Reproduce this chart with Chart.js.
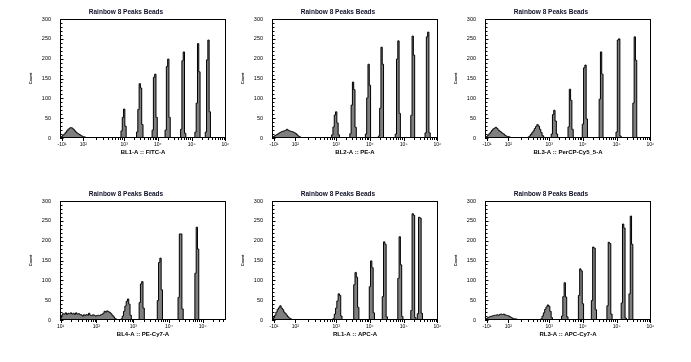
<!DOCTYPE html>
<html><head><meta charset="utf-8">
<script src="https://cdn.jsdelivr.net/npm/chart.js@4/dist/chart.umd.min.js"></script>
<style>
html,body{margin:0;padding:0;background:#fff;}
body{width:691px;height:362px;position:relative;overflow:hidden;}
canvas{position:absolute;}
</style></head><body>
<script>
// ---------------- data ----------------
const chartTitle = 'Rainbow 8 Peaks Beads';
const yAxisTitle = 'Count';
const binCount = 128;
const yTickValues = [0, 50, 100, 150, 200, 250, 300];
const biexTickPositions = [1.5, 18, 49.5, 75.5, 101.5, 127.5];
const biexTickLabels = ['-10¹', '10²', '10³', '10⁴', '10⁵', '10⁶'];
const logTickPositions = [0.5, 28, 56.5, 84, 110];
const logTickLabels = ['10¹', '10²', '10³', '10⁴', '10⁵'];
const channelNames = ['BL1-A :: FITC-A', 'BL2-A :: PE-A', 'BL3-A :: PerCP-Cy5_5-A',
                      'BL4-A :: PE-Cy7-A', 'RL1-A :: APC-A', 'RL3-A :: APC-Cy7-A'];

// histogram counts: [first bin, counts of consecutive bins]; other bins are 0
const fitcBins = [
  [0, [2,4,7,10,14,18,22,25,26,25,22,18,15,12,10,8,6,4,3,2,1]],
  [47, [18,52,73,30]],
  [59, [15,72,137,126,34]],
  [71, [20,153,161,52]],
  [81, [20,180,199,52]],
  [93, [22,195,217,12]],
  [104, [15,88,238,167]],
  [112, [15,197,247,66]]
];
const peBins = [
  [0, [2,4,6,8,10,12,14,16,17,18,19,22,20,18,17,16,15,13,11,8,5,3,1]],
  [46, [8,28,58,66,38,8]],
  [60, [11,83,141,122,27]],
  [72, [10,101,186,133]],
  [82, [5,75,229,186]],
  [95, [10,199,245,62]],
  [107, [57,257,209]],
  [118, [13,255,267,13]]
];
const percpBins = [
  [0, [2,4,7,11,15,19,23,25,27,24,20,17,15,12,10,7,5,4,3,2,1]],
  [33, [2,5,9,13,18,24,29,34,30,22,14,6,2]],
  [51, [10,59,70,43,10]],
  [64, [28,123,95,22]],
  [75, [35,177,184,48]],
  [88, [98,217,161]],
  [101, [15,247,250,5]],
  [114, [88,255,196]]
];
const pecy7Bins = [
  [0, [4,12,16,15,18,14,17,16,18,15,17,14,18,15,16,14,13,
       10,13,11,14,12,17,12,11,13,12,10,11,12,11,13,14,
       17,22,20,23,21,19,16,12,8,4,2,1]],
  [47, [3,10,22,35,47,53,40,12]],
  [61, [44,91,97,30]],
  [75, [49,145,156,76]],
  [91, [57,217,217,28]],
  [104, [118,234,179]]
];
const apcBins = [
  [0, [2,6,12,20,27,31,36,30,26,20,16,12,8,5,3,1]],
  [47, [4,15,30,48,66,62,10]],
  [63, [89,120,108,32]],
  [75, [84,149,132,18]],
  [85, [59,197,191,8]],
  [97, [105,210,139,9]],
  [107, [24,268,264,6]],
  [112, [16,259,257,17]]
];
const apccy7Bins = [
  [0, [2,4,6,8,9,10,11,12,12,13,12,14,15,14,15,13,12,11,10,8,6,4,3,3,2,1]],
  [43, [3,10,18,27,33,38,35,22,6]],
  [59, [10,59,94,58,8]],
  [72, [62,129,124,41]],
  [82, [49,184,181,26]],
  [94, [36,196,193,15]],
  [105, [43,242,232,5]],
  [111, [66,262,191]]
];

// ---------------- layout / style ----------------
const FONT = '"Liberation Sans", Arial, "DejaVu Sans", sans-serif';
const Y_W = 34, PLOT_W = 166, PLOT_H = 119, TITLE_H = 19, X_H = 22, PAD_R = 8;
const panels = [
  {bins: fitcBins,   name: channelNames[0], log: false, left: 60,  top: 19},
  {bins: peBins,     name: channelNames[1], log: false, left: 272, top: 19},
  {bins: percpBins,  name: channelNames[2], log: false, left: 485, top: 19},
  {bins: pecy7Bins,  name: channelNames[3], log: true,  left: 60,  top: 201},
  {bins: apcBins,    name: channelNames[4], log: false, left: 272, top: 201},
  {bins: apccy7Bins, name: channelNames[5], log: false, left: 485, top: 201}
];

function expand(segs) {
  const a = new Array(binCount).fill(0);
  segs.forEach(([s, vals]) => vals.forEach((v, k) => { a[s + k] = v; }));
  return a;
}
function minorTicks(major, firstDecadeIdx) {
  const out = [];
  for (let i = firstDecadeIdx; i < major.length; i++) {
    const span = (i + 1 < major.length) ? major[i + 1] - major[i] : major[i] - major[i - 1];
    for (let k = 2; k <= 9; k++) {
      const p = major[i] + Math.log10(k) * span;
      if (p <= binCount) out.push(p);
    }
  }
  return out;
}

const framePlugin = {
  id: 'frame',
  afterDatasetsDraw(chart) {
    const {ctx, chartArea: a, scales: {x, y}} = chart;
    const o = chart.options.plugins.frame;
    ctx.save();
    ctx.strokeStyle = '#000';
    ctx.lineWidth = 1;
    ctx.strokeRect(Math.round(a.left) + 0.5, Math.round(a.top) + 0.5,
                   Math.round(a.right - a.left) - 1, Math.round(a.bottom - a.top) - 1);
    ctx.beginPath();
    for (let v = 0; v <= 300; v += 10) {
      const py = Math.round(y.getPixelForValue(v)) + 0.5;
      const len = (v % 50 === 0) ? 3 : 2;
      ctx.moveTo(a.left, py); ctx.lineTo(a.left + len + 0.5, py);
    }
    const b = Math.round(a.bottom);
    o.major.forEach(v => {
      const px = Math.round(x.getPixelForValue(v)) + 0.5;
      ctx.moveTo(px, b); ctx.lineTo(px, b + 3);
    });
    o.minor.forEach(v => {
      const px = Math.round(x.getPixelForValue(v)) + 0.5;
      ctx.moveTo(px, b); ctx.lineTo(px, b + 2);
    });
    ctx.stroke();
    ctx.restore();
  }
};

panels.forEach(p => {
  const W = Y_W + PLOT_W + PAD_R, H = TITLE_H + PLOT_H + X_H;
  const cv = document.createElement('canvas');
  cv.width = W; cv.height = H;
  cv.style.left = (p.left - Y_W) + 'px';
  cv.style.top = (p.top - TITLE_H) + 'px';
  cv.style.width = W + 'px'; cv.style.height = H + 'px';
  document.body.appendChild(cv);

  const counts = expand(p.bins);
  const pts = [{x: 0, y: counts[0]}]
    .concat(counts.map((c, k) => ({x: k + 0.5, y: c})))
    .concat([{x: binCount, y: counts[binCount - 1]}]);
  const tickPos = p.log ? logTickPositions : biexTickPositions;
  const tickLab = p.log ? logTickLabels : biexTickLabels;
  const minor = minorTicks(tickPos, p.log ? 0 : 1);

  new Chart(cv, {
    type: 'line',
    data: {datasets: [{
      data: pts, stepped: 'middle', fill: 'origin',
      backgroundColor: '#7f7f7f', borderColor: '#000', borderWidth: 1,
      pointRadius: 0, pointHoverRadius: 0
    }]},
    options: {
      responsive: false, animation: false, devicePixelRatio: 1,
      events: [],
      layout: {padding: {left: 0, right: PAD_R, top: 0, bottom: 0}},
      plugins: {
        legend: {display: false}, tooltip: {enabled: false},
        title: {display: true, text: chartTitle, color: '#10102a',
                font: {family: FONT, size: 6.5, weight: 'bold'},
                padding: {top: 8.1, bottom: 3.1}},
        frame: {major: tickPos, minor: minor}
      },
      scales: {
        x: {
          type: 'linear', min: 0, max: binCount,
          grid: {display: false, drawTicks: false}, border: {display: false},
          afterBuildTicks(s) { s.ticks = tickPos.map(v => ({value: v})); },
          afterFit(s) { s.height = X_H; s.paddingLeft = 0; s.paddingRight = 0; },
          ticks: {autoSkip: false, maxRotation: 0, minRotation: 0, padding: 4, color: '#000',
                  font: {family: FONT, size: 5}, callback: (v, i) => tickLab[i]},
          title: {display: true, text: p.name, color: '#000',
                  font: {family: FONT, size: 6, weight: 'bold'}, padding: {top: 0, bottom: 4.4}}
        },
        y: {
          type: 'linear', min: 0, max: 300,
          grid: {display: false, drawTicks: false}, border: {display: false},
          afterBuildTicks(s) { s.ticks = yTickValues.map(v => ({value: v})); },
          afterFit(s) { s.width = Y_W; s.paddingTop = 0; s.paddingBottom = 0; },
          ticks: {padding: 9, color: '#000', font: {family: FONT, size: 5.5}},
          title: {display: true, text: yAxisTitle, color: '#000',
                  font: {family: FONT, size: 4, weight: 'bold'}, padding: {top: 2.3, bottom: 0}}
        }
      }
    },
    plugins: [framePlugin]
  });
});
</script>
</body></html>
